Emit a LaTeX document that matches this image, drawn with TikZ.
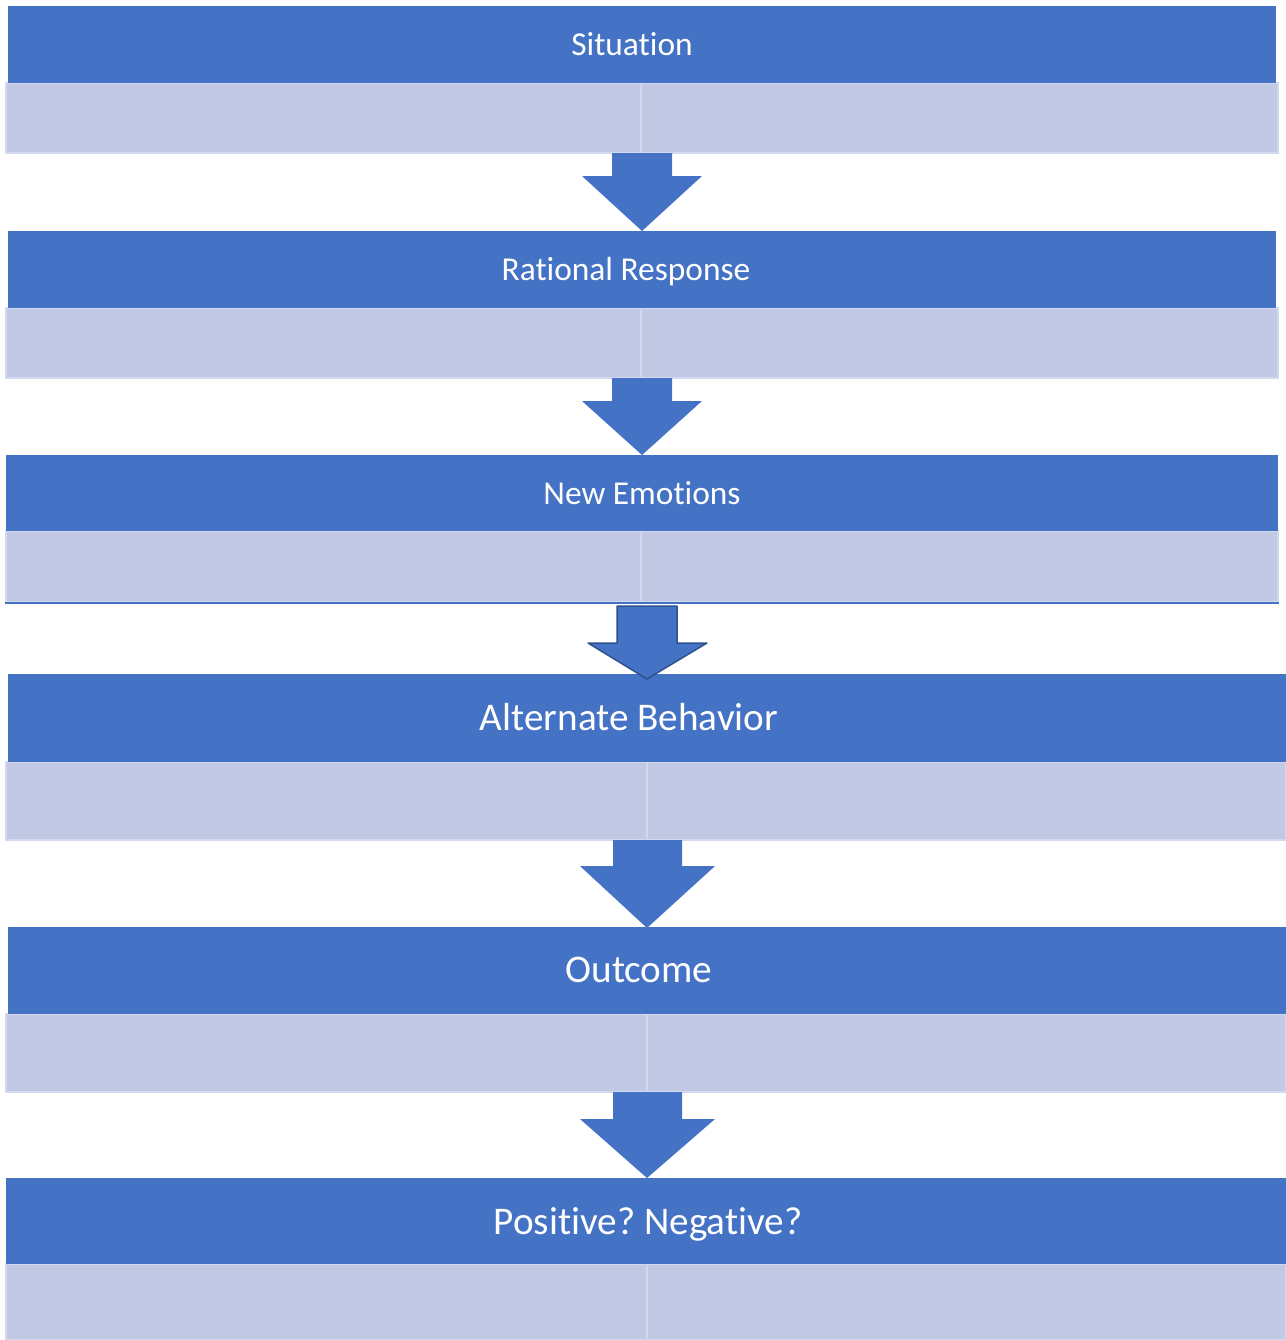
\documentclass[tikz,border=0pt]{standalone}
\usepackage{fontspec}
\setmainfont{Carlito}[Ligatures=NoCommon]
\usetikzlibrary{positioning, calc, fit}
\definecolor{blue538}{HTML}{4472C4}
\definecolor{lilac538}{HTML}{C1C9E5}
\definecolor{rule538}{HTML}{D2D8EE}
\definecolor{edge538}{HTML}{2F528F}
\frenchspacing

\begin{document}
\begin{tikzpicture}[x=0.5pt, y=-0.5pt, inner sep=0]
  \tikzstyle {header} = [fill=blue538]
  \tikzstyle {title} = [text=white, anchor=base]
  \tikzstyle {cell} = [fill=lilac538, draw=rule538, line width=1pt]
  \tikzstyle {blockarrow} = [fill=blue538]
  \useasboundingbox (0,0) rectangle (1286,1340);
  % place nodes
  \foreach \i/\hl/\hr/\l/\r/\top/\mid/\bot/\split/\tx/\ty/\sz/\txt in {
      1/8/1276/6/1278/6/83/153/641/632/55/16.7/Situation,
      2/8/1276/6/1278/231/308/378/641/626/280/16.7/Rational Response,
      3/6/1278/6/1278/455/531/602/641/642/504/16.7/New Emotions,
      4/8/1286/6/1286/674/762/840/647/629/730/19.6/Alternate Behavior,
      5/8/1286/6/1286/927/1014/1092/647/639/982/19.6/Outcome,
      6/6/1286/6/1286/1178/1264/1340/647/648/1234/19.6/Positive? Negative?}
    { \node [cell, fit = {(\l,\mid) (\split,\bot)}] (a\i) {};
      \node [cell, fit = {(\split,\mid) (\r,\bot)}] (b\i) {};
      \node [header, fit = {(\hl,\top) (\hr,\mid)}] (h\i) {};
      \node [title, font=\fontsize{\sz pt}{\sz pt}\selectfont] (t\i) at (\tx,\ty) {\txt}; } ;
  \draw [blue538, line width=1pt] (a3.south west) -- (b3.south east);
  % place arrows
  \foreach \a/\b/\t/\n/\hl/\hr/\c/\e in {
      612/672/153/176/582/702/642/231,
      612/672/378/401/582/702/642/455,
      613/682/840/866/580/715/647/928,
      613/682/1092/1119/580/715/647/1178}
    { \fill [blockarrow] (\a,\t) -- (\b,\t) -- (\b,\n) -- (\hr,\n) -- (\c,\e)
        -- (\hl,\n) -- (\a,\n) -- cycle ; } ;
  \filldraw [blockarrow, draw=edge538, line width=0.75pt, line join=round]
    (617,606) -- (677,606) -- (677,643) -- (707,643) -- (647,679)
    -- (588,643) -- (617,643) -- cycle ;
\end{tikzpicture}
\end{document}
